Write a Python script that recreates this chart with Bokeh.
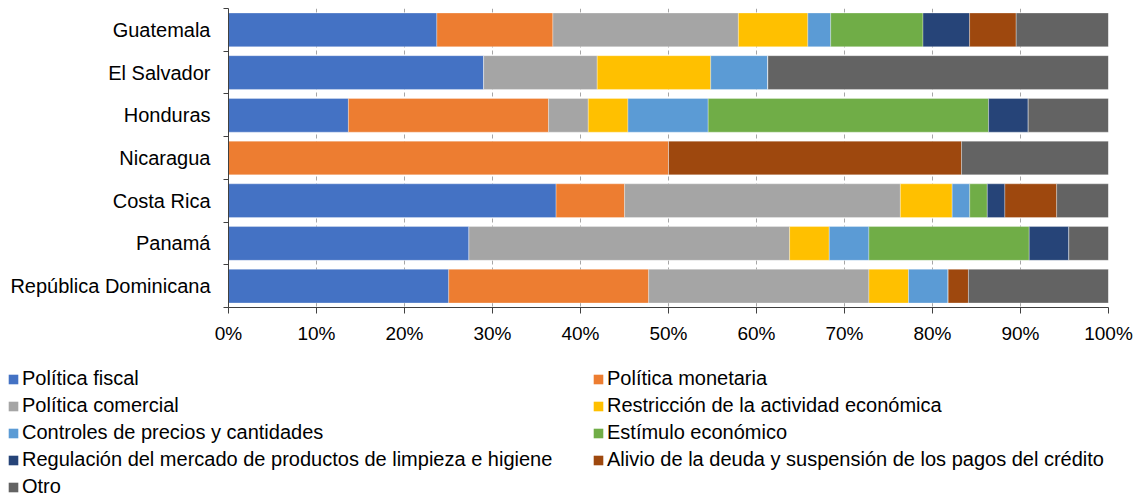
from bokeh.plotting import figure
from bokeh.layouts import column, row
from bokeh.models import (ColumnDataSource, Range1d, FixedTicker, PrintfTickFormatter,
                          Legend, LegendItem)
from bokeh.embed import file_html
from bokeh.resources import INLINE

categories = ["Guatemala", "El Salvador", "Honduras", "Nicaragua", "Costa Rica",
              "Panamá", "República Dominicana"]

series_names = [
    "Política fiscal",
    "Política monetaria",
    "Política comercial",
    "Restricción de la actividad económica",
    "Controles de precios y cantidades",
    "Estímulo económico",
    "Regulación del mercado de productos de limpieza e higiene",
    "Alivio de la deuda y suspensión de los pagos del crédito",
    "Otro",
]

politica_fiscal      = [23.7, 29.0, 13.6, 0.0, 37.3, 27.3, 25.0]
politica_monetaria   = [13.2, 0.0, 22.7, 50.0, 7.8, 0.0, 22.7]
politica_comercial   = [21.1, 12.9, 4.5, 0.0, 31.4, 36.4, 25.0]
restriccion          = [7.9, 12.9, 4.5, 0.0, 5.9, 4.5, 4.5]
controles            = [2.6, 6.5, 9.1, 0.0, 2.0, 4.5, 4.5]
estimulo             = [10.5, 0.0, 31.8, 0.0, 2.0, 18.2, 0.0]
regulacion           = [5.3, 0.0, 4.5, 0.0, 2.0, 4.5, 0.0]
alivio               = [5.3, 0.0, 0.0, 33.3, 5.9, 0.0, 2.3]
otro                 = [10.5, 38.7, 9.1, 16.7, 5.9, 4.5, 15.9]

colors = ["#4472C4", "#ED7D31", "#A5A5A5", "#FFC000", "#5B9BD5",
          "#70AD47", "#264478", "#9E480E", "#636363"]

x_ticks = [0, 10, 20, 30, 40, 50, 60, 70, 80, 90, 100]

series = [politica_fiscal, politica_monetaria, politica_comercial, restriccion,
          controles, estimulo, regulacion, alivio, otro]

FONT = "Liberation Sans"
NAN = float("nan")

p = figure(width=1139, height=358, output_backend="svg", toolbar_location=None,
           x_range=Range1d(0, 100), y_range=Range1d(6.5, -0.5),
           min_border_left=228, min_border_right=31, min_border_top=8,
           min_border_bottom=51)
p.outline_line_color = None
p.background_fill_color = "white"

idx = list(range(len(categories)))
totals = [sum(s[i] for s in series) for i in idx]
left = [0.0] * len(categories)
for name, vals, col in zip(series_names, series, colors):
    norm = [v * 100.0 / t for v, t in zip(vals, totals)]
    right = [l + v for l, v in zip(left, norm)]
    src = ColumnDataSource(dict(y=idx, left=left, right=right))
    p.hbar(y="y", left="left", right="right", height=0.79, source=src,
           fill_color=col, line_color="white", line_width=0.6, line_alpha=0.5)
    left = right

# x axis
p.xaxis.ticker = FixedTicker(ticks=x_ticks)
p.xaxis.formatter = PrintfTickFormatter(format="%d%%")
p.xaxis.axis_line_color = "#404040"
p.xaxis.major_tick_line_color = "#404040"
p.xaxis.major_tick_out = 6
p.xaxis.major_tick_in = 0
p.xaxis.minor_tick_line_color = None
p.xaxis.major_label_text_font = FONT
p.xaxis.major_label_text_font_size = "19px"
p.xaxis.major_label_text_color = "black"
p.xaxis.major_label_standoff = 9

# y axis
p.yaxis.ticker = FixedTicker(ticks=idx, minor_ticks=[i - 0.5 for i in range(len(categories) + 1)])
p.yaxis.major_label_overrides = {i: c for i, c in zip(idx, categories)}
p.yaxis.axis_line_color = "#404040"
p.yaxis.major_tick_out = 0
p.yaxis.major_tick_in = 0
p.yaxis.minor_tick_out = 5
p.yaxis.minor_tick_in = 0
p.yaxis.minor_tick_line_color = "#404040"
p.yaxis.major_label_text_font = FONT
p.yaxis.major_label_text_font_size = "20px"
p.yaxis.major_label_text_color = "black"
p.yaxis.major_label_standoff = 13

# grid
p.xgrid.ticker = FixedTicker(ticks=x_ticks)
p.xgrid.grid_line_color = "#a6a6a6"
p.xgrid.grid_line_dash = "4 3"
p.ygrid.visible = False

# legend figure (swatch renderers hold no visible data)
p2 = figure(width=1139, height=140, output_backend="svg", toolbar_location=None,
            x_range=Range1d(0, 1), y_range=Range1d(0, 1),
            min_border_left=0, min_border_right=0, min_border_top=0, min_border_bottom=0)
p2.xaxis.visible = False
p2.yaxis.visible = False
p2.grid.visible = False
p2.outline_line_color = None
legend_renderers = []
for col in colors:
    legend_renderers.append(p2.hbar(y=[NAN], left=[NAN], right=[NAN], height=0.8,
                                    fill_color=col, line_color=None))

def make_legend(items, loc):
    return Legend(items=items, location=loc, orientation="vertical",
                  label_text_font=FONT, label_text_font_size="20px",
                  label_text_color="black", glyph_width=12, glyph_height=12,
                  label_height=18, spacing=4, label_standoff=3, padding=0, margin=0,
                  border_line_color=None, background_fill_alpha=0)

items_left = [LegendItem(label=series_names[i], renderers=[legend_renderers[i]]) for i in [0, 2, 4, 6, 8]]
items_right = [LegendItem(label=series_names[i], renderers=[legend_renderers[i]]) for i in [1, 3, 5, 7]]
p2.add_layout(make_legend(items_left, (7, 0)), "center")
p2.add_layout(make_legend(items_right, (592, 27)), "center")

layout = column(p, row(p2), spacing=0)
open("out.html", "w").write(file_html(layout, INLINE))
